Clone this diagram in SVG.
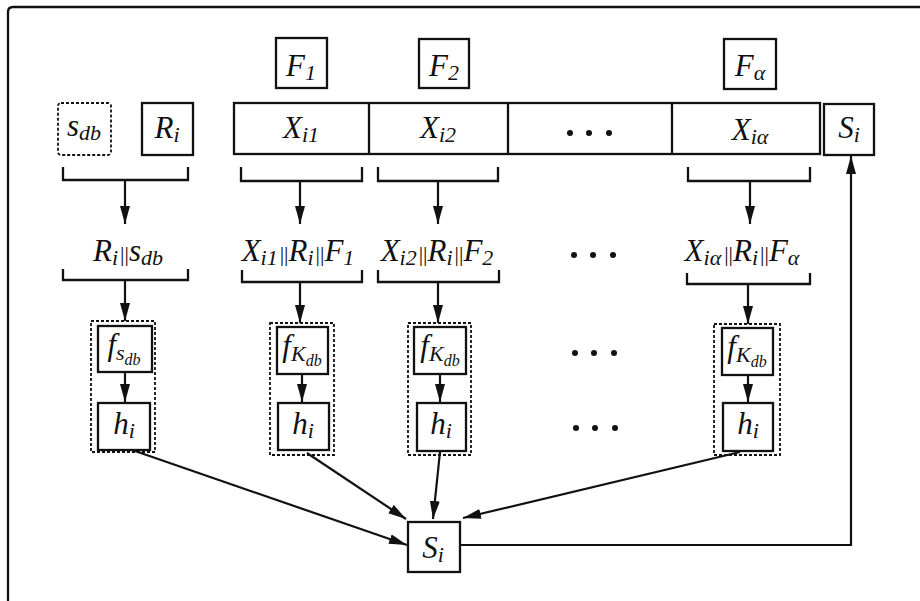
<svg xmlns="http://www.w3.org/2000/svg" width="920" height="601" viewBox="0 0 920 601">
  <defs>
    <marker id="arrow" markerUnits="userSpaceOnUse" markerWidth="19" markerHeight="12" refX="18" refY="5" orient="auto">
      <path d="M0,0 L18,5 L0,10 Z" fill="#111"/>
    </marker>
    <style>
      .box { fill: #fff; stroke: #111; stroke-width: 2.3; }
      .dash { fill: none; stroke: #111; stroke-width: 1.8; stroke-dasharray: 3 2; }
      .line { fill: none; stroke: #111; stroke-width: 2.3; }
      .arr { fill: none; stroke: #111; stroke-width: 2.2; marker-end: url(#arrow); }
      text { font-family: "Liberation Serif", "Times New Roman", serif; font-style: italic; font-size: 31px; fill: #111; text-anchor: middle; }
      .sub { font-size: 22px; }
      .sub2 { font-size: 16px; }
      .bar { font-style: normal; font-size: 22px; }
      .dot { fill: #111; }
    </style>
  </defs>

  <!-- frame -->
  <path class="line" d="M8,601 V12 Q8,7 13,7 H920"/>

  <!-- top row -->
  <g id="f1"><rect class="box" x="276" y="38" width="51" height="50"/><text x="301" y="76">F<tspan class="sub" dy="4">1</tspan></text></g>
  <g id="f2"><rect class="box" x="419" y="39" width="50" height="49"/><text x="444" y="76">F<tspan class="sub" dy="4">2</tspan></text></g>
  <g id="falpha"><rect class="box" x="724" y="39" width="52" height="50"/><text x="750" y="76">F<tspan class="sub" dy="4">α</tspan></text></g>

  <g id="sdb"><rect class="dash" x="58" y="103" width="53" height="52" rx="3"/><text x="84" y="136">s<tspan class="sub" dy="4">db</tspan></text></g>
  <g id="ri"><rect class="box" x="142" y="103" width="51" height="52"/><text x="167" y="138">R<tspan class="sub" dy="4">i</tspan></text></g>

  <g id="xrow">
    <rect class="box" x="234" y="103" width="586" height="51"/>
    <path class="line" d="M369,103 V154 M508,103 V154 M672,103 V154"/>
    <text x="301" y="138">X<tspan class="sub" dy="4">i1</tspan></text>
    <text x="438" y="138">X<tspan class="sub" dy="4">i2</tspan></text>
    <text x="750" y="140">X<tspan class="sub" dy="4">iα</tspan></text>
    <circle class="dot" cx="570" cy="133" r="3"/><circle class="dot" cx="589" cy="133" r="3"/><circle class="dot" cx="609" cy="133" r="3"/>
  </g>

  <g id="si-top"><rect class="box" x="824" y="104" width="50" height="51"/><text x="849" y="138">S<tspan class="sub" dy="4">i</tspan></text></g>

  <!-- concatenation labels -->
  <g id="lbl1"><text x="128" y="261">R<tspan class="sub" dy="4">i</tspan><tspan class="bar" dy="-4" dx="2">||</tspan>s<tspan class="sub" dy="4">db</tspan></text></g>
  <g id="lbl2"><text x="298" y="261">X<tspan class="sub" dy="4">i1</tspan><tspan class="bar" dy="-4" dx="2">||</tspan>R<tspan class="sub" dy="4">i</tspan><tspan class="bar" dy="-4" dx="2">||</tspan>F<tspan class="sub" dy="4">1</tspan></text></g>
  <g id="lbl3"><text x="437" y="261">X<tspan class="sub" dy="4">i2</tspan><tspan class="bar" dy="-4" dx="2">||</tspan>R<tspan class="sub" dy="4">i</tspan><tspan class="bar" dy="-4" dx="2">||</tspan>F<tspan class="sub" dy="4">2</tspan></text></g>
  <g id="lbl4"><text x="742" y="261">X<tspan class="sub" dy="4">iα</tspan><tspan class="bar" dy="-4" dx="3">||</tspan>R<tspan class="sub" dy="4">i</tspan><tspan class="bar" dy="-4" dx="2">||</tspan>F<tspan class="sub" dy="4">α</tspan></text></g>
  <g id="dots-lbl"><circle class="dot" cx="574" cy="255" r="3"/><circle class="dot" cx="593" cy="255" r="3"/><circle class="dot" cx="613" cy="255" r="3"/></g>

  <!-- hash stages -->
  <g id="stage1">
    <rect class="dash" x="91" y="321" width="64" height="131"/>
    <rect class="box" x="98" y="326" width="54" height="46"/>
    <text x="124" y="355">f<tspan class="sub" dy="5">s</tspan><tspan class="sub2" dy="5">db</tspan></text>
    <rect class="box" x="98" y="403" width="52" height="47"/>
    <text x="124" y="434">h<tspan class="sub" dy="4">i</tspan></text>
  </g>
  <g id="stage2">
    <rect class="dash" x="270" y="323" width="64" height="132"/>
    <rect class="box" x="277" y="327" width="51" height="47"/>
    <text x="302" y="356">f<tspan class="sub" dy="5">K</tspan><tspan class="sub2" dy="5">db</tspan></text>
    <rect class="box" x="278" y="403" width="51" height="47"/>
    <text x="303" y="434">h<tspan class="sub" dy="4">i</tspan></text>
  </g>
  <g id="stage3">
    <rect class="dash" x="408" y="323" width="63" height="132"/>
    <rect class="box" x="414" y="327" width="52" height="47"/>
    <text x="440" y="356">f<tspan class="sub" dy="5">K</tspan><tspan class="sub2" dy="5">db</tspan></text>
    <rect class="box" x="417" y="403" width="49" height="48"/>
    <text x="441" y="434">h<tspan class="sub" dy="4">i</tspan></text>
  </g>
  <g id="stage4">
    <rect class="dash" x="714" y="324" width="66" height="131"/>
    <rect class="box" x="722" y="328" width="51" height="47"/>
    <text x="747" y="357">f<tspan class="sub" dy="5">K</tspan><tspan class="sub2" dy="5">db</tspan></text>
    <rect class="box" x="723" y="403" width="50" height="48"/>
    <text x="748" y="434">h<tspan class="sub" dy="4">i</tspan></text>
  </g>
  <g id="dots-stage">
    <circle class="dot" cx="575" cy="353" r="3"/><circle class="dot" cx="594" cy="353" r="3"/><circle class="dot" cx="614" cy="353" r="3"/>
    <circle class="dot" cx="576" cy="428" r="3"/><circle class="dot" cx="595" cy="428" r="3"/><circle class="dot" cx="615" cy="428" r="3"/>
  </g>

  <g id="si-bottom"><rect class="box" x="408" y="522" width="52" height="50"/><text x="433" y="558">S<tspan class="sub" dy="4">i</tspan></text></g>

  <!-- connectors -->
  <g id="connectors">
    <path class="line" d="M63,167 V180 H188 V167 M241,167 V181 H362 V167 M378,167 V181 H498 V167 M688,167 V181 H810 V167"/>
    <path class="arr" d="M125,180 V224"/>
    <path class="arr" d="M300,181 V224"/>
    <path class="arr" d="M438,181 V224"/>
    <path class="arr" d="M750,181 V224"/>
    <path class="line" d="M63,269 V280 H188 V269 M242,270 V282 H362 V270 M378,270 V282 H499 V270 M687,273 V284 H810 V273"/>
    <path class="arr" d="M125,280 V321"/>
    <path class="arr" d="M300,282 V323"/>
    <path class="arr" d="M438,282 V323"/>
    <path class="arr" d="M748,284 V324"/>
    <path class="arr" d="M125,372 V402"/>
    <path class="arr" d="M302,374 V402"/>
    <path class="arr" d="M440,374 V402"/>
    <path class="arr" d="M748,375 V402"/>
    <path class="arr" d="M135,451 L407,545"/>
    <path class="arr" d="M307,453 L406,519"/>
    <path class="arr" d="M440,452 L433,519"/>
    <path class="arr" d="M740,452 L463,518"/>
    <path class="arr" d="M460,545 H851 V156"/>
  </g>
</svg>
